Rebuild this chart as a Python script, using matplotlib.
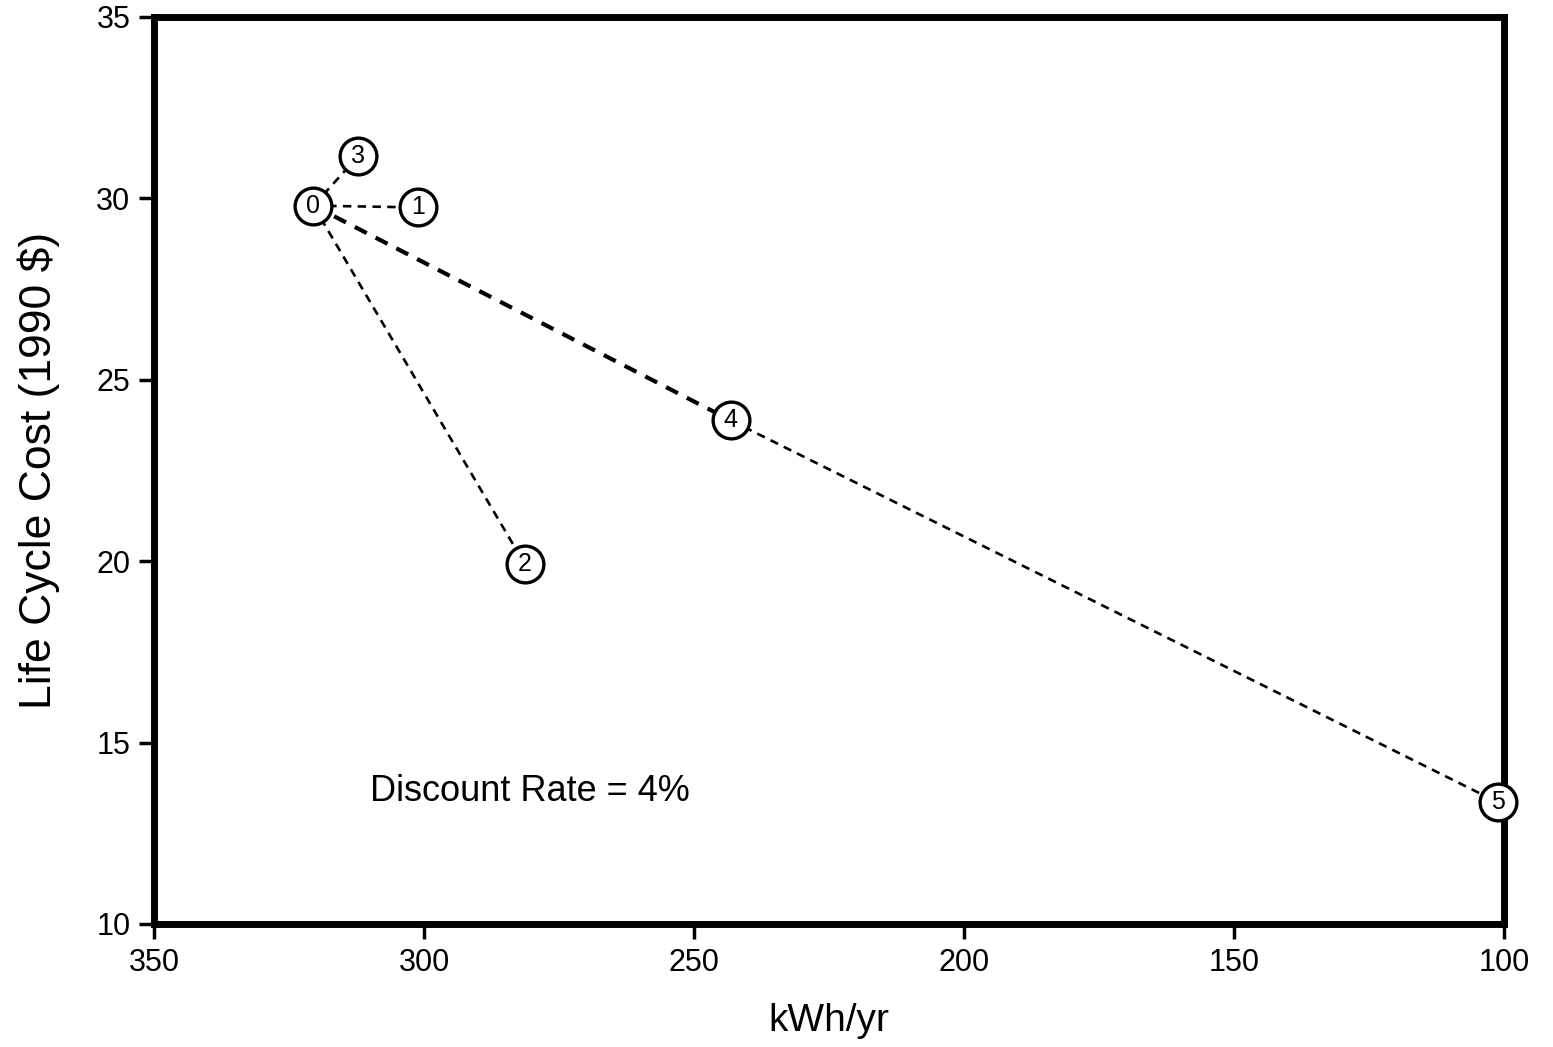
import matplotlib
matplotlib.use("Agg")
import matplotlib.pyplot as plt

plt.rcParams['font.family'] = ['Liberation Sans', 'DejaVu Sans']

# design options: label, kWh/yr, life cycle cost
labels = ['0', '1', '2', '3', '4', '5']
kwh = [320.5, 301.2, 281.4, 312.2, 243.2, 101.1]
lcc = [29.8, 29.75, 19.93, 31.16, 23.88, 13.35]

# which options are joined by dashed lines
links = [(0, 1), (0, 2), (0, 3), (0, 4), (4, 5)]

xticks = [350, 300, 250, 200, 150, 100]
yticks = [10, 15, 20, 25, 30, 35]

fig = plt.figure(figsize=(15.53, 10.47), dpi=100)
ax = fig.add_axes([0.0992, 0.1175, 0.8693, 0.8663])

for a, b in links:
    lw = 3.0 if (a, b) == (0, 4) else 1.9
    ax.plot([kwh[a], kwh[b]], [lcc[a], lcc[b]], ls=(0, (3.2, 2.4)),
            color='black', lw=lw, zorder=2)

ax.scatter(kwh, lcc, s=700, facecolor='white', edgecolor='black',
           linewidth=2.4, zorder=3, clip_on=False)
for lab, x, y in zip(labels, kwh, lcc):
    ax.text(x, y, lab, ha='center', va='center', fontsize=18, zorder=4)

ax.text(310.1, 13.65, 'Discount Rate = 4%', fontsize=26, ha='left', va='center')

ax.set_xlim(350, 100)
ax.set_ylim(10, 35)
ax.set_xticks(xticks)
ax.set_yticks(yticks)
ax.tick_params(labelsize=22, width=2.5, length=11, direction='out', pad=6)
for sp in ax.spines.values():
    sp.set_linewidth(5)

ax.set_xlabel('kWh/yr', fontsize=28, labelpad=18)
ax.set_ylabel('Life Cycle Cost (1990 $)', fontsize=32, labelpad=26)

fig.savefig('out.png', dpi=100)
